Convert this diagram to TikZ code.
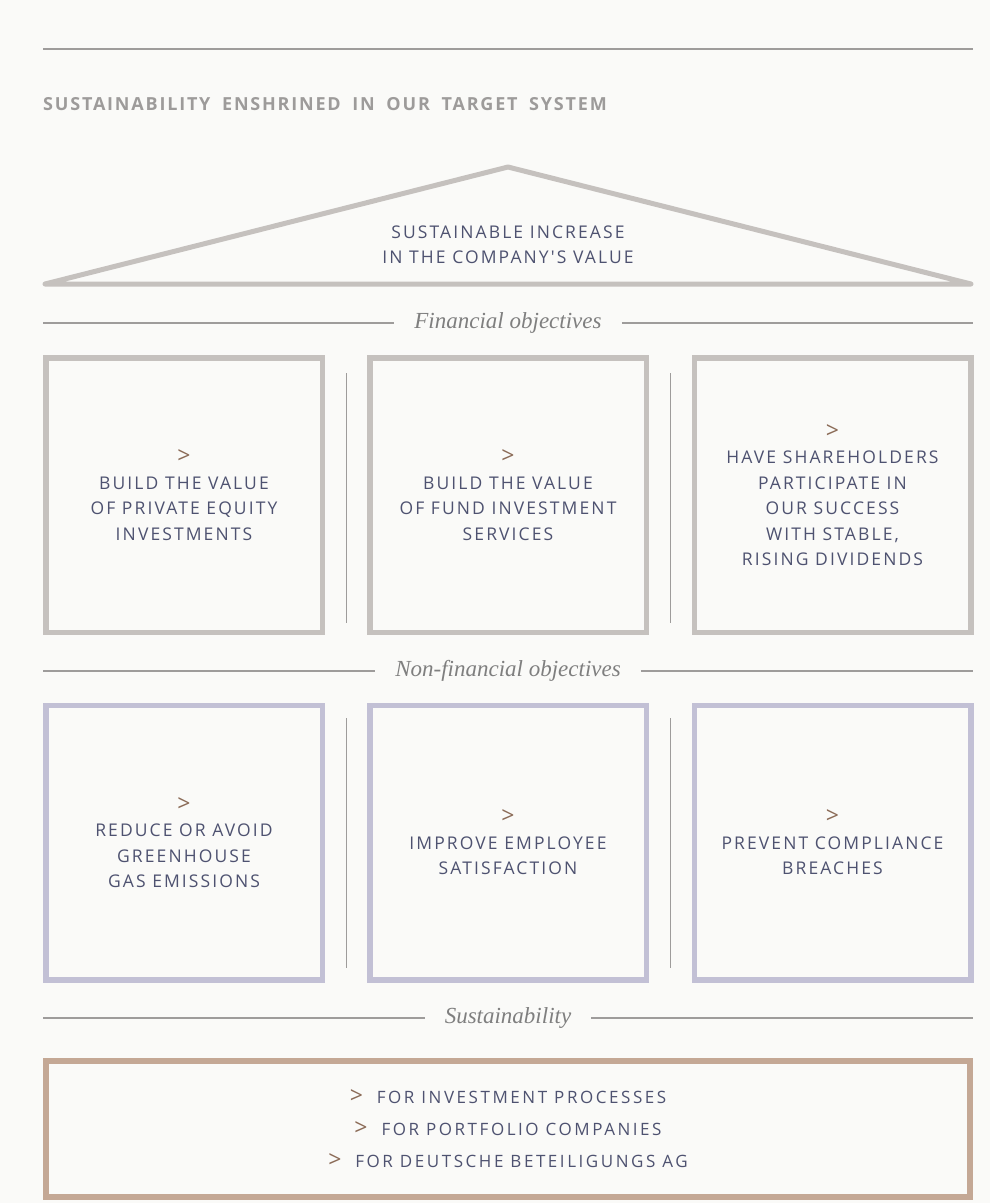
\documentclass[tikz,border=0pt]{standalone}
\usepackage{fontspec}
\setmainfont{Open Sans}
\newfontfamily\spacedfont[LetterSpace=12]{Open Sans}
\newfontfamily\widefont[LetterSpace=15]{Open Sans}
\newfontfamily\titlefont[LetterSpace=10,WordSpace=1.8]{Open Sans}
\newfontfamily\captionfont{Liberation Serif}

\definecolor{bgwhite}{HTML}{FAFAF8}
\definecolor{rulegray}{HTML}{9E9C9B}
\definecolor{boxgray}{HTML}{C5C1BE}
\definecolor{boxlilac}{HTML}{C2C0D5}
\definecolor{boxtan}{HTML}{C4A895}
\definecolor{textnavy}{HTML}{4E5270}
\definecolor{arrowbrown}{HTML}{8B6B57}
\definecolor{labelgray}{HTML}{7F7F7F}
\definecolor{titlegray}{HTML}{9D9B9A}

\newcommand{\chev}{\textcolor{arrowbrown}{\fontsize{23}{23}\selectfont >}}

\begin{document}
\begin{tikzpicture}[
        x=1pt, y=-1pt,
        rule/.style={draw=rulegray, line width=1.3pt},
        divider/.style={draw=rulegray, line width=1pt},
        goal_box/.style={draw=boxgray, line width=5.5pt, minimum width=276.5pt,
            minimum height=274.5pt, align=center, text=textnavy,
            font=\spacedfont\fontsize{17.5}{25.5}\selectfont},
        nonfin_box/.style={goal_box, draw=boxlilac},
        section_label/.style={font=\captionfont\itshape\fontsize{23}{23}\selectfont,
            text=labelgray, text height=16pt, text depth=6pt, inner xsep=20pt}
    ]

    % --- Page ---
    \useasboundingbox (0,0) rectangle (990,1203);
    \fill[bgwhite] (0,0) rectangle (990,1203);

    % --- Heading ---
    \draw[rule] (43,49) -- (973,49);
    \node[anchor=west, inner sep=0pt, text=titlegray,
        font=\titlefont\bfseries\fontsize{18}{18}\selectfont] (title) at (43,104)
        {SUSTAINABILITY ENSHRINED IN OUR TARGET SYSTEM};

    % --- Roof ---
    \draw[draw=boxgray, line width=5pt, line join=round]
        (45,284) -- (508,167) -- (971,284) -- cycle;
    \node[align=center, text=textnavy,
        font=\spacedfont\fontsize{17.5}{25}\selectfont] (roof) at (508,245)
        {SUSTAINABLE INCREASE\\ IN THE COMPANY'S VALUE};

    % --- Financial objectives ---
    \node[section_label] (finlabel) at (508,323) {Financial objectives};
    \coordinate (finL) at (43,323);
    \coordinate (finR) at (973,323);
    \draw[rule] (finL) -- (finlabel);
    \draw[rule] (finlabel) -- (finR);

    \node[goal_box] (fin1) at (184,495)
        {\chev\\[0pt] BUILD THE VALUE\\ OF PRIVATE EQUITY\\ INVESTMENTS};
    \node[goal_box] (fin2) at (508,495)
        {\chev\\[0pt] BUILD THE VALUE\\ OF FUND INVESTMENT\\ SERVICES};
    \node[goal_box] (fin3) at (832.5,495)
        {\chev\\[0pt] HAVE SHAREHOLDERS\\ PARTICIPATE IN\\ OUR SUCCESS\\
         WITH STABLE,\\ RISING DIVIDENDS};

    % --- Non-financial objectives ---
    \node[section_label] (nonfinlabel) at (508,671) {Non-financial objectives};
    \coordinate (nonfinL) at (43,671);
    \coordinate (nonfinR) at (973,671);
    \draw[rule] (nonfinL) -- (nonfinlabel);
    \draw[rule] (nonfinlabel) -- (nonfinR);

    \node[nonfin_box] (nonfin1) at (184,842.5)
        {\chev\\[0pt] REDUCE OR AVOID\\ GREENHOUSE\\ GAS EMISSIONS};
    \node[nonfin_box] (nonfin2) at (508,842.5)
        {\chev\\[0pt] IMPROVE EMPLOYEE\\ SATISFACTION};
    \node[nonfin_box] (nonfin3) at (832.5,842.5)
        {\chev\\[0pt] PREVENT COMPLIANCE\\ BREACHES};

    % Vertical dividers between the boxes
    \foreach \x in {346.5,670.5} {
        \draw[divider] (\x,373) -- (\x,623);
        \draw[divider] (\x,718) -- (\x,968);
    }

    % --- Sustainability ---
    \node[section_label] (sustlabel) at (508,1018) {Sustainability};
    \coordinate (sustL) at (43,1018);
    \coordinate (sustR) at (973,1018);
    \draw[rule] (sustL) -- (sustlabel);
    \draw[rule] (sustlabel) -- (sustR);

    \node[goal_box, draw=boxtan, line width=6pt, minimum width=924pt,
        minimum height=136pt, font=\widefont\fontsize{17}{32}\selectfont]
        (sust) at (508,1129)
        {\chev\ \ FOR INVESTMENT PROCESSES\\ \chev\ \ FOR PORTFOLIO COMPANIES\\
         \chev\ \ FOR DEUTSCHE BETEILIGUNGS AG};

\end{tikzpicture}
\end{document}
